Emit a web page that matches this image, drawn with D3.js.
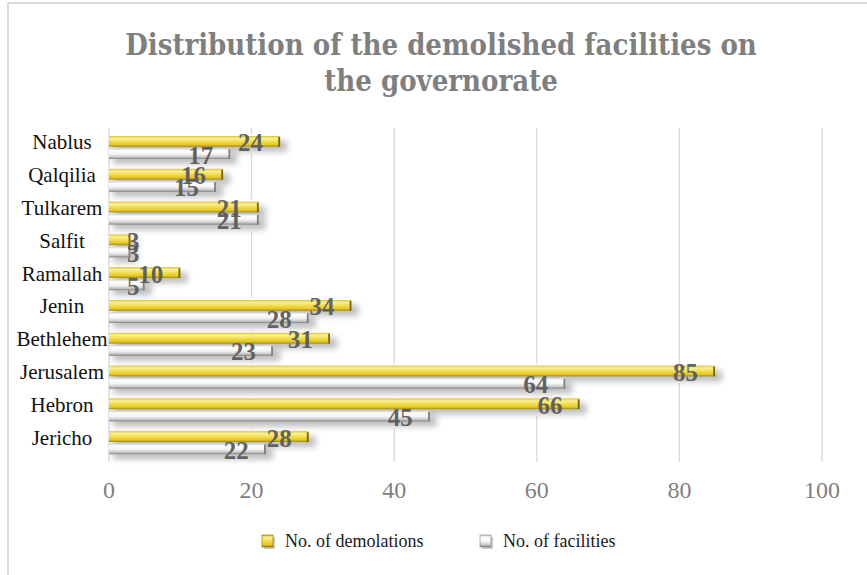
<!DOCTYPE html>
<html>
<head>
<meta charset="utf-8">
<script src="https://cdn.jsdelivr.net/npm/d3@7"></script>
<style>
  body { margin: 0; background: #fff; }
  svg { display: block; }
  .title { font-stretch: condensed; }
</style>
</head>
<body>
<div id="chart"></div>
<script>
// governorates, top to bottom as drawn
const governorates = ['Nablus', 'Qalqilia', 'Tulkarem', 'Salfit', 'Ramallah',
  'Jenin', 'Bethlehem', 'Jerusalem', 'Hebron', 'Jericho'];
const demolitions = [24, 16, 21, 3, 10, 34, 31, 85, 66, 28];
const facilities = [17, 15, 21, 3, 5, 28, 23, 64, 45, 22];
const seriesNames = ['No. of demolations', 'No. of facilities'];
const xTicks = [0, 20, 40, 60, 80, 100];
const titleLines = ['Distribution of the demolished facilities on', 'the governorate'];

const width = 867, height = 575;
const serif = '"Liberation Serif", "DejaVu Serif", serif';

const svg = d3.select('#chart').append('svg')
  .attr('width', width)
  .attr('height', height);

const defs = svg.append('defs');

function vGrad(id, stops) {
  const g = defs.append('linearGradient')
    .attr('id', id)
    .attr('x1', 0).attr('y1', 0).attr('x2', 0).attr('y2', 1);
  stops.forEach(s => g.append('stop').attr('offset', s[0]).attr('stop-color', s[1]));
}
vGrad('gradYellow', [[0, '#dcc22a'], [0.22, '#fbf09a'], [0.5, '#f3de50'], [0.82, '#e4c524'], [1, '#a08510']]);
vGrad('gradGray', [[0, '#cfcfcf'], [0.22, '#ffffff'], [0.55, '#f3f3f3'], [0.82, '#c8c8c8'], [1, '#808080']]);

defs.append('filter')
  .attr('id', 'blur')
  .attr('x', -0.3).attr('y', -1).attr('width', 1.6).attr('height', 3)
  .append('feGaussianBlur')
  .attr('stdDeviation', 3);

// chart frame (left + top edges visible)
svg.append('line')
  .attr('x1', 8).attr('y1', 3).attr('x2', 8).attr('y2', height)
  .attr('stroke', '#d9d9d9').attr('stroke-width', 2);
svg.append('line')
  .attr('x1', 8).attr('y1', 3).attr('x2', width).attr('y2', 3)
  .attr('stroke', '#d9d9d9').attr('stroke-width', 2);

// title
svg.append('text')
  .attr('class', 'title')
  .attr('x', 441)
  .attr('text-anchor', 'middle')
  .attr('font-family', '"DejaVu Serif Condensed", "DejaVu Serif", serif')
  .attr('font-weight', 'bold')
  .attr('font-size', 29)
  .attr('fill', '#7f7f7f')
  .selectAll('tspan')
  .data(titleLines)
  .enter()
  .append('tspan')
  .attr('x', 441)
  .attr('y', (d, i) => 55 + i * 36)
  .text(d => d);

const x = d3.scaleLinear().domain([0, 100]).range([109, 822]);
const y = d3.scaleBand().domain(governorates).range([130, 458]);
const yInner = d3.scaleBand().domain([0, 1]).range([6, 29]).paddingInner(0.12);

// gridlines
svg.append('g')
  .selectAll('line')
  .data(xTicks)
  .enter()
  .append('line')
  .attr('x1', d => x(d)).attr('x2', d => x(d))
  .attr('y1', 128).attr('y2', 462)
  .attr('stroke', '#d9d9d9')
  .attr('stroke-width', 1.3);

// tick labels
svg.append('g')
  .selectAll('text')
  .data(xTicks)
  .enter()
  .append('text')
  .attr('x', d => x(d))
  .attr('y', 498)
  .attr('text-anchor', 'middle')
  .attr('font-family', serif)
  .attr('font-size', 24)
  .attr('fill', '#7f7f7f')
  .text(d => d);

// category labels
svg.append('g')
  .selectAll('text')
  .data(governorates)
  .enter()
  .append('text')
  .attr('x', 62)
  .attr('y', d => y(d) + y.bandwidth() / 2 + 3)
  .attr('text-anchor', 'middle')
  .attr('font-family', serif)
  .attr('font-size', 21)
  .attr('fill', '#111')
  .text(d => d);

const bars = [];
governorates.forEach((g, i) => {
  bars.push({ gov: g, s: 0, value: demolitions[i] });
  bars.push({ gov: g, s: 1, value: facilities[i] });
});
const fills = ['url(#gradYellow)', 'url(#gradGray)'];
const edges = ['#7a6600', '#7d7d7d'];
const barY = d => y(d.gov) + yInner(d.s);
const bh = yInner.bandwidth();

// white halo that hides gridlines round the bars
svg.append('g')
  .selectAll('rect')
  .data(bars)
  .enter()
  .append('rect')
  .attr('x', x(0) + 1)
  .attr('y', d => barY(d) - 2)
  .attr('width', d => x(d.value) - x(0) + 12)
  .attr('height', bh + 9)
  .attr('fill', '#fff');

// soft shadows
svg.append('g')
  .selectAll('rect')
  .data(bars)
  .enter()
  .append('rect')
  .attr('x', x(0) + 4)
  .attr('y', d => barY(d) + 5)
  .attr('width', d => x(d.value) - x(0) + 3)
  .attr('height', bh)
  .attr('fill', '#000')
  .attr('opacity', 0.26)
  .attr('filter', 'url(#blur)');

const barG = svg.append('g');
barG.selectAll('rect.bar')
  .data(bars)
  .enter()
  .append('rect')
  .attr('class', 'bar')
  .attr('x', x(0))
  .attr('y', barY)
  .attr('width', d => x(d.value) - x(0))
  .attr('height', bh)
  .attr('fill', d => fills[d.s]);

// dark bevel at bar end
barG.selectAll('rect.edge')
  .data(bars)
  .enter()
  .append('rect')
  .attr('class', 'edge')
  .attr('x', d => x(d.value) - 1.8)
  .attr('y', d => barY(d) + 1)
  .attr('width', 1.8)
  .attr('height', bh - 1)
  .attr('fill', d => edges[d.s]);

// value labels, inside end, but never starting left of the axis gap
svg.append('g')
  .selectAll('text')
  .data(bars)
  .enter()
  .append('text')
  .attr('y', d => barY(d) + bh / 2 + 10)
  .attr('text-anchor', 'end')
  .attr('font-family', serif)
  .attr('font-weight', 'bold')
  .attr('font-size', 25)
  .attr('fill', '#5a5a5a')
  .attr('fill-opacity', 0.95)
  .text(d => d.value)
  .attr('x', function(d) {
    const w = this.getComputedTextLength();
    return Math.max(x(d.value) - 17, x(0) + 18 + w);
  });

// legend
const legendX = [262, 480];
const legend = svg.append('g')
  .selectAll('g')
  .data(seriesNames)
  .enter()
  .append('g')
  .attr('transform', (d, i) => `translate(${legendX[i]},535)`);

legend.append('rect')
  .attr('x', 2).attr('y', 2)
  .attr('width', 11).attr('height', 12)
  .attr('fill', '#000').attr('opacity', 0.2);
legend.append('rect')
  .attr('width', 11).attr('height', 12)
  .attr('fill', (d, i) => i === 0 ? 'url(#gradYellow)' : 'url(#gradGray)')
  .attr('stroke', (d, i) => edges[i])
  .attr('stroke-width', 0.6);
legend.append('text')
  .attr('x', 23)
  .attr('y', 12)
  .attr('font-family', serif)
  .attr('font-size', 18)
  .attr('fill', '#1a1a1a')
  .text(d => d);
</script>
</body>
</html>
